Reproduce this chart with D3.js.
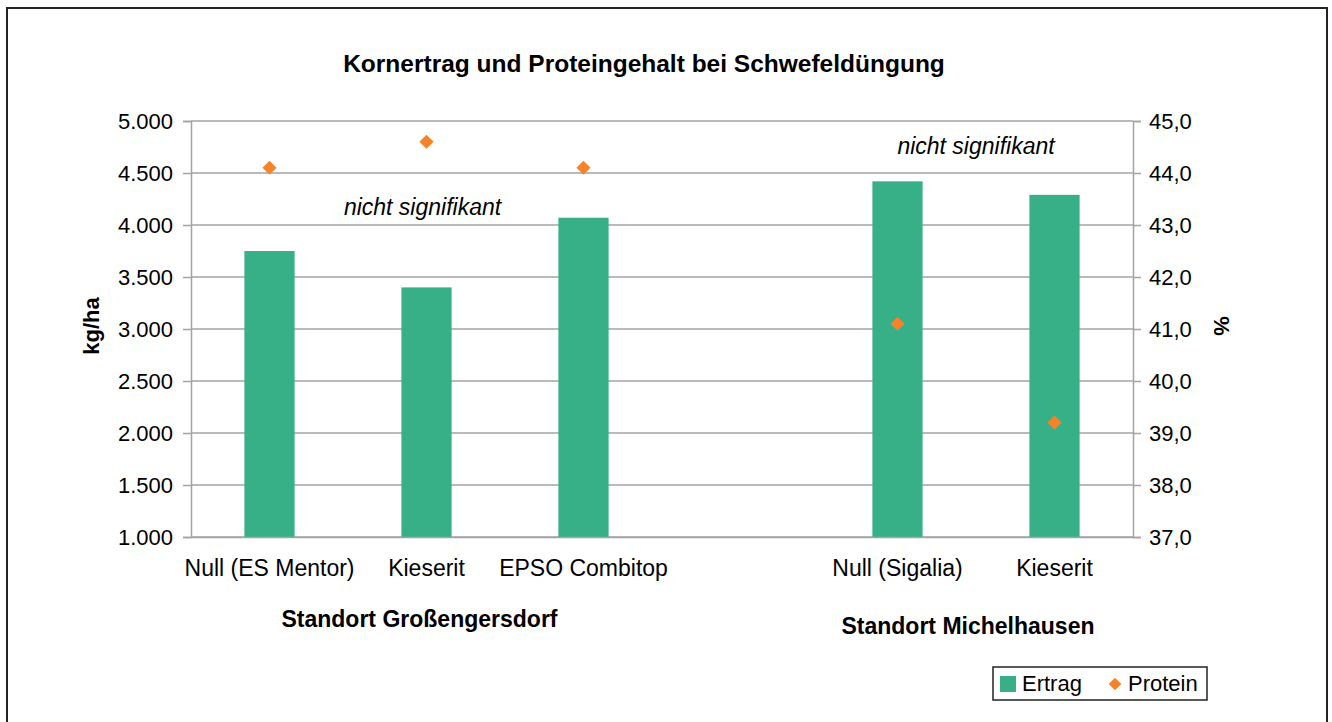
<!DOCTYPE html>
<html>
<head>
<meta charset="utf-8">
<script src="https://cdn.jsdelivr.net/npm/d3@7"></script>
<style>
  body { margin: 0; background: #fff; }
  svg text { font-family: "Liberation Sans", Arial, sans-serif; fill: #000; }
</style>
</head>
<body>
<div id="chart"></div>
<script>
// DATA
const categories = ["Null (ES Mentor)", "Kieserit", "EPSO Combitop", "", "Null (Sigalia)", "Kieserit"];
const ertrag = [3750, 3400, 4070, null, 4420, 4290];      // kg/ha
const protein = [44.1, 44.6, 44.1, null, 41.1, 39.2];     // %
const leftTicks = [1000, 1500, 2000, 2500, 3000, 3500, 4000, 4500, 5000];
const rightTicks = [37, 38, 39, 40, 41, 42, 43, 44, 45];
const groups = ["Standort Großengersdorf", "Standort Michelhausen"];

// 1: SET GLOBAL VARIABLES
const W = 1332, H = 722;
const plot = { left: 191, right: 1133, top: 121, bottom: 537 };
const green = "#38b087", orange = "#f5832a", grid = "#a3a3a7";

const svg = d3.select("#chart").append("svg")
    .attr("width", W)
    .attr("height", H);

// outer frame
svg.append("rect")
    .attr("x", 7).attr("y", 8)
    .attr("width", 1320).attr("height", 730)
    .attr("fill", "none")
    .attr("stroke", "#222")
    .attr("stroke-width", 2);

// 3: SCALES
const x = d3.scaleBand()
    .domain(d3.range(categories.length))
    .range([plot.left, plot.right])
    .paddingInner(0.68)
    .paddingOuter(0.34);

const yLeft = d3.scaleLinear().domain([1000, 5000]).range([plot.bottom, plot.top]);
const yRight = d3.scaleLinear().domain([37, 45]).range([plot.bottom, plot.top]);

// gridlines
svg.append("g")
    .selectAll("line")
    .data(leftTicks)
    .enter().append("line")
    .attr("x1", plot.left).attr("x2", plot.right)
    .attr("y1", d => yLeft(d)).attr("y2", d => yLeft(d))
    .attr("stroke", grid)
    .attr("stroke-width", 1.5);

// 4: BARS
svg.append("g")
    .selectAll("rect")
    .data(ertrag.map((v, i) => ({ i, v })).filter(d => d.v != null))
    .enter().append("rect")
    .attr("x", d => x(d.i))
    .attr("y", d => yLeft(d.v))
    .attr("width", x.bandwidth())
    .attr("height", d => yLeft(1000) - yLeft(d.v))
    .attr("fill", green);

// protein diamonds
const diamond = d3.symbol().type(d3.symbolSquare).size(100);
svg.append("g")
    .selectAll("path")
    .data(protein.map((v, i) => ({ i, v })).filter(d => d.v != null))
    .enter().append("path")
    .attr("d", diamond)
    .attr("transform", d => `translate(${x(d.i) + x.bandwidth() / 2},${yRight(d.v)}) rotate(45)`)
    .attr("fill", orange);

// 5: AXES
const axLeft = svg.append("g")
    .attr("transform", `translate(${plot.left},0)`)
    .call(d3.axisLeft(yLeft).tickValues(leftTicks).tickSize(8).tickPadding(10)
        .tickFormat(d => d3.format(",")(d).replace(",", ".")));

const axRight = svg.append("g")
    .attr("transform", `translate(${plot.right},0)`)
    .call(d3.axisRight(yRight).tickValues(rightTicks).tickSize(8).tickPadding(8)
        .tickFormat(d => d3.format(".1f")(d).replace(".", ",")));

const axBottom = svg.append("g")
    .attr("transform", `translate(0,${plot.bottom})`)
    .call(d3.axisBottom(x).tickSize(0).tickPadding(23).tickFormat(i => categories[i]));

[axLeft, axRight, axBottom].forEach(g => {
    g.select(".domain").attr("stroke", grid).attr("stroke-width", 1.5);
    g.selectAll(".tick line").attr("stroke", grid).attr("stroke-width", 1.5);
    g.selectAll("text")
        .attr("font-family", "Liberation Sans, Arial, sans-serif")
        .attr("font-size", 22)
        .attr("fill", "#000");
});
axBottom.selectAll(".tick text").attr("font-size", 23).attr("dy", "0.71em");

// 6: LABELS
svg.append("text")
    .attr("x", 644).attr("y", 72)
    .attr("text-anchor", "middle")
    .attr("font-size", 24.5).attr("font-weight", "bold")
    .text("Kornertrag und Proteingehalt bei Schwefeldüngung");

svg.append("text")
    .attr("transform", "translate(99,326) rotate(-90)")
    .attr("text-anchor", "middle")
    .attr("font-size", 22).attr("font-weight", "bold")
    .text("kg/ha");

svg.append("text")
    .attr("transform", "translate(1214,326) rotate(90)")
    .attr("text-anchor", "middle")
    .attr("font-size", 22).attr("font-weight", "bold")
    .text("%");

// group labels under the categories
svg.append("text")
    .attr("x", x(1) + x.bandwidth() / 2 - 7).attr("y", 627)
    .attr("text-anchor", "middle")
    .attr("font-size", 23).attr("font-weight", "bold")
    .text(groups[0]);

svg.append("text")
    .attr("x", (x(4) + x(5) + x.bandwidth()) / 2 - 8).attr("y", 634)
    .attr("text-anchor", "middle")
    .attr("font-size", 23).attr("font-weight", "bold")
    .text(groups[1]);

// significance notes
svg.append("text")
    .attr("x", x(1) + x.bandwidth() / 2 - 4).attr("y", 215)
    .attr("text-anchor", "middle")
    .attr("font-size", 23).attr("font-style", "italic")
    .text("nicht signifikant");

svg.append("text")
    .attr("x", (x(4) + x(5) + x.bandwidth()) / 2).attr("y", 154)
    .attr("text-anchor", "middle")
    .attr("font-size", 23).attr("font-style", "italic")
    .text("nicht signifikant");

// LEGEND
const legend = svg.append("g").attr("transform", "translate(993,667)");
legend.append("rect")
    .attr("width", 214).attr("height", 33)
    .attr("fill", "#fff")
    .attr("stroke", "#222").attr("stroke-width", 1.5);
legend.append("rect")
    .attr("x", 7).attr("y", 9)
    .attr("width", 16).attr("height", 16)
    .attr("fill", green);
legend.append("text")
    .attr("x", 29).attr("y", 24)
    .attr("font-size", 22)
    .text("Ertrag");
legend.append("path")
    .attr("d", d3.symbol().type(d3.symbolSquare).size(80))
    .attr("transform", "translate(122,17) rotate(45)")
    .attr("fill", orange);
legend.append("text")
    .attr("x", 135).attr("y", 24)
    .attr("font-size", 22)
    .text("Protein");
</script>
</body>
</html>
